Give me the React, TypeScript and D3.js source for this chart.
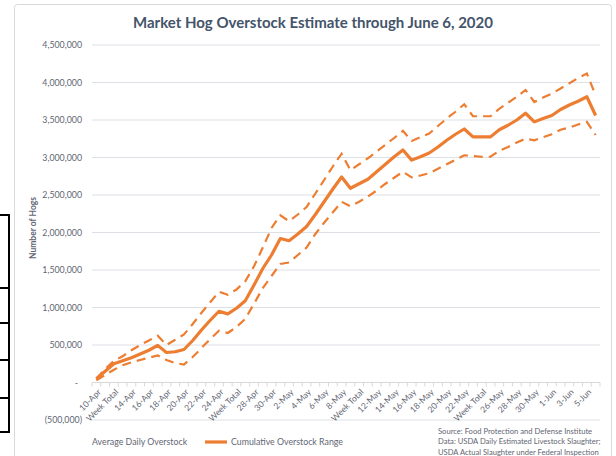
import React, { useEffect, useRef } from "react"
import * as d3 from "d3"

// categories: one per day, Sundays replaced by "Week Total"
const categories = [
  "10-Apr", "11-Apr", "Week Total", "13-Apr", "14-Apr", "15-Apr", "16-Apr", "17-Apr", "18-Apr", "Week Total",
  "20-Apr", "21-Apr", "22-Apr", "23-Apr", "24-Apr", "25-Apr", "Week Total",
  "27-Apr", "28-Apr", "29-Apr", "30-Apr", "1-May", "2-May", "Week Total",
  "4-May", "5-May", "6-May", "7-May", "8-May", "9-May", "Week Total",
  "11-May", "12-May", "13-May", "14-May", "15-May", "16-May", "Week Total",
  "18-May", "19-May", "20-May", "21-May", "22-May", "23-May", "Week Total",
  "25-May", "26-May", "27-May", "28-May", "29-May", "30-May", "Week Total",
  "1-Jun", "2-Jun", "3-Jun", "4-Jun", "5-Jun", "6-Jun",
]

// cumulative overstock (mid estimate)
const midValues = [
  50000, 150000, 250000, 290000, 330000, 380000, 430000, 495000, 400000, 410000,
  440000, 560000, 700000, 830000, 950000, 915000, 990000,
  1090000, 1300000, 1520000, 1700000, 1920000, 1890000, 1980000,
  2080000, 2240000, 2410000, 2580000, 2740000, 2590000, 2650000,
  2710000, 2810000, 2910000, 3010000, 3100000, 2965000, 3010000,
  3060000, 3140000, 3230000, 3310000, 3380000, 3275000, 3275000,
  3275000, 3370000, 3430000, 3500000, 3590000, 3475000, 3520000,
  3560000, 3640000, 3700000, 3750000, 3810000, 3560000,
]

// upper end of range
const upperValues = [
  50000, 180000, 290000, 350000, 430000, 500000, 560000, 625000, 500000, 570000,
  640000, 780000, 930000, 1070000, 1210000, 1170000, 1240000,
  1350000, 1550000, 1800000, 2060000, 2230000, 2150000, 2240000,
  2340000, 2520000, 2700000, 2880000, 3050000, 2830000, 2910000,
  2990000, 3080000, 3170000, 3260000, 3355000, 3220000, 3270000,
  3320000, 3420000, 3520000, 3610000, 3710000, 3550000, 3550000,
  3550000, 3650000, 3730000, 3810000, 3900000, 3740000, 3800000,
  3850000, 3920000, 3990000, 4060000, 4120000, 3830000,
]

// lower end of range
const lowerValues = [
  30000, 100000, 170000, 230000, 270000, 300000, 330000, 360000, 300000, 260000,
  240000, 340000, 460000, 580000, 690000, 660000, 740000,
  850000, 1050000, 1260000, 1420000, 1580000, 1600000, 1700000,
  1800000, 1980000, 2130000, 2270000, 2410000, 2350000, 2410000,
  2480000, 2560000, 2650000, 2730000, 2810000, 2735000, 2760000,
  2790000, 2850000, 2910000, 2970000, 3030000, 3020000, 3010000,
  3010000, 3090000, 3140000, 3200000, 3250000, 3230000, 3270000,
  3310000, 3370000, 3400000, 3440000, 3475000, 3300000,
]

const yTicks = [-500000, 0, 500000, 1000000, 1500000, 2000000, 2500000, 3000000, 3500000, 4000000, 4500000]

const sourceLines = [
  "Source: Food Protection and Defense Institute",
  "Data: USDA Daily Estimated Livestock Slaughter;",
  "USDA Actual Slaughter under Federal Inspection",
]

const W = 616
const H = 456
const FONT = "Lato, 'Open Sans', sans-serif"
const orange = "#ED7D31"
const textCol = "#5F6673"

function App() {
  const ref = useRef<SVGSVGElement>(null)

  useEffect(() => {
    const svg = d3.select(ref.current)
    svg.selectAll("*").remove()

    const plot = { left: 92, right: 600, top: 45, bottom: 420 }

    const x = d3
      .scaleBand<number>()
      .domain(categories.map((d, i) => i))
      .range([plot.left, plot.right])
      .paddingInner(0)
      .paddingOuter(0)

    const y = d3
      .scaleLinear()
      .domain([-500000, 4500000])
      .range([plot.bottom, plot.top])

    const cx = (i: number) => (x(i) as number) + x.bandwidth() / 2

    // chart frame
    svg.append("rect")
      .attr("x", 14.5).attr("y", 4.5)
      .attr("width", 597).attr("height", 470)
      .attr("rx", 3)
      .attr("fill", "white")
      .attr("stroke", "#D9D9D9")

    // stray table border at the left edge
    const edge = svg.append("g").attr("stroke", "black").attr("stroke-width", 2)
    edge.append("line").attr("x1", 9).attr("x2", 9).attr("y1", 215).attr("y2", 432)
    ;[215, 288, 323, 360, 398, 432].forEach(yy => {
      edge.append("line").attr("x1", 0).attr("x2", 10).attr("y1", yy).attr("y2", yy)
    })

    // title
    svg.append("text")
      .attr("x", 313).attr("y", 28)
      .attr("text-anchor", "middle")
      .attr("font-family", FONT)
      .attr("font-weight", "bold")
      .attr("font-size", 15)
      .attr("fill", "#44546A")
      .text("Market Hog Overstock Estimate through June 6, 2020")

    // gridlines
    svg.append("g")
      .selectAll("line")
      .data(yTicks.filter(d => d !== 0))
      .enter()
      .append("line")
      .attr("x1", plot.left).attr("x2", plot.right)
      .attr("y1", d => y(d)).attr("y2", d => y(d))
      .attr("stroke", "#DDE0E5")
      .attr("stroke-width", 1)

    // y tick labels
    const fmt = d3.format(",")
    svg.append("g")
      .selectAll("text")
      .data(yTicks)
      .enter()
      .append("text")
      .attr("x", d => (d === 0 ? 78 : 82))
      .attr("y", d => y(d))
      .attr("dy", "0.35em")
      .attr("text-anchor", "end")
      .attr("font-family", FONT)
      .attr("font-size", 8.8)
      .attr("fill", textCol)
      .text(d => (d === 0 ? "-" : d < 0 ? "(" + fmt(-d) + ")" : fmt(d)))

    // y axis title
    svg.append("text")
      .attr("transform", "translate(36,228) rotate(-90)")
      .attr("text-anchor", "middle")
      .attr("font-family", FONT)
      .attr("font-weight", "bold")
      .attr("font-size", 8.5)
      .attr("fill", textCol)
      .text("Number of Hogs")

    // category axis
    const y0 = y(0)
    svg.append("line")
      .attr("x1", plot.left).attr("x2", plot.right)
      .attr("y1", y0).attr("y2", y0)
      .attr("stroke", "#D9D9D9")
    svg.append("g")
      .selectAll("line")
      .data(d3.range(categories.length + 1))
      .enter()
      .append("line")
      .attr("x1", i => plot.left + i * x.step())
      .attr("x2", i => plot.left + i * x.step())
      .attr("y1", y0).attr("y2", y0 + 4)
      .attr("stroke", "#D9D9D9")

    svg.append("g")
      .selectAll("text")
      .data(categories.map((d, i) => ({ d, i })).filter(o => o.i % 2 === 0))
      .enter()
      .append("text")
      .attr("transform", o => `translate(${cx(o.i) + 3},${y0 + 8}) rotate(-45)`)
      .attr("dy", "0.35em")
      .attr("text-anchor", "end")
      .attr("font-family", FONT)
      .attr("font-size", 8.5)
      .attr("fill", textCol)
      .text(o => o.d)

    // lines
    const line = d3
      .line<number>()
      .x((d, i) => cx(i))
      .y(d => y(d))

    svg.append("path")
      .datum(upperValues)
      .attr("d", line)
      .attr("fill", "none")
      .attr("stroke", orange)
      .attr("stroke-width", 2.2)
      .attr("stroke-dasharray", "9,6")

    svg.append("path")
      .datum(lowerValues)
      .attr("d", line)
      .attr("fill", "none")
      .attr("stroke", orange)
      .attr("stroke-width", 2.2)
      .attr("stroke-dasharray", "9,6")

    svg.append("path")
      .datum(midValues)
      .attr("d", line)
      .attr("fill", "none")
      .attr("stroke", orange)
      .attr("stroke-width", 3.2)
      .attr("stroke-linejoin", "round")

    // legend
    svg.append("text")
      .attr("x", 92).attr("y", 445)
      .attr("font-family", FONT)
      .attr("font-size", 8.8)
      .attr("fill", textCol)
      .text("Average Daily Overstock")
    svg.append("line")
      .attr("x1", 205).attr("x2", 227)
      .attr("y1", 442).attr("y2", 442)
      .attr("stroke", orange)
      .attr("stroke-width", 3.2)
    svg.append("text")
      .attr("x", 231).attr("y", 445)
      .attr("font-family", FONT)
      .attr("font-size", 8.8)
      .attr("fill", textCol)
      .text("Cumulative Overstock Range")

    // source note
    svg.append("g")
      .selectAll("text")
      .data(sourceLines)
      .enter()
      .append("text")
      .attr("x", 438)
      .attr("y", (d, i) => 434 + i * 10.3)
      .attr("font-family", FONT)
      .attr("font-size", 7.6)
      .attr("fill", textCol)
      .text(d => d)
  }, [])

  return (
    <div style={{ position: "absolute", left: 0, top: 0 }}>
      <svg ref={ref} width={W} height={H} style={{ display: "block", background: "white" }} />
    </div>
  )
}

export default App
